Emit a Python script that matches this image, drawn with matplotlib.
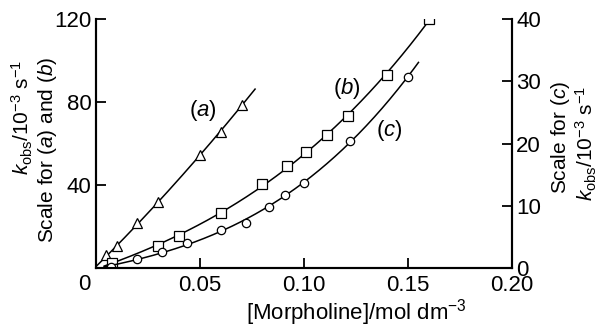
import numpy as np
import matplotlib
matplotlib.use("Agg")
import matplotlib.pyplot as plt

# ---- data ----
# (a) triangles, left scale
xa = [0.005, 0.010, 0.020, 0.030, 0.050, 0.060, 0.070]
ya = [6.3, 10.6, 21.5, 31.6, 54.4, 65.7, 78.5]
# (b) squares, left scale
xb = [0.008, 0.030, 0.040, 0.060, 0.080, 0.092, 0.101, 0.111, 0.121, 0.140, 0.160]
yb = [2.2, 10.8, 15.6, 26.3, 40.3, 49.3, 56.0, 64.0, 73.3, 93.0, 120.0]
# (c) circles, right scale
xc = [0.0075, 0.020, 0.032, 0.044, 0.060, 0.072, 0.083, 0.091, 0.100, 0.122, 0.150]
yc = [0.2, 1.4, 2.5, 4.0, 6.1, 7.3, 9.8, 11.8, 13.7, 20.4, 30.7]

xticks = [0.05, 0.10, 0.15, 0.20]
xticklabels = ["0.05", "0.10", "0.15", "0.20"]
yticks_left = [40, 80, 120]
yticks_right = [0, 10, 20, 30, 40]

plt.rcParams["font.family"] = ["Liberation Sans", "DejaVu Sans"]
plt.rcParams["mathtext.fontset"] = "custom"
plt.rcParams["mathtext.rm"] = "Liberation Sans"
plt.rcParams["mathtext.it"] = "Liberation Sans:italic"
FS = 16
LFS = 15  # axis titles

fig = plt.figure(figsize=(5.99, 3.28), dpi=100)
ax = fig.add_axes([0.160, 0.183, 0.695, 0.759])
ax2 = ax.twinx()

def fit_curve(x, y, deg, x0, x1):
    # smooth line through the points, anchored at the origin like the original
    p = np.polyfit([0.0] + list(x), [0.0] + list(y), deg)
    xs = np.linspace(x0, x1, 200)
    return xs, np.polyval(p, xs)

lw = 1.1
xs, ys = fit_curve(xa, ya, 2, 0.0, 0.0765)
ax.plot(xs, ys, color="black", lw=lw)
ax.plot(xa, ya, ls="none", marker="^", ms=6.5, mfc="white", mec="black", mew=0.9)

xs, ys = fit_curve(xb, yb, 3, 0.004, 0.1605)
ax.plot(xs, ys, color="black", lw=lw)
ax.plot(xb, yb, ls="none", marker="s", ms=6.5, mfc="white", mec="black", mew=0.9)

xs, ys = fit_curve(xc, yc, 3, 0.004, 0.155)
ax2.plot(xs, ys, color="black", lw=lw)
ax2.plot(xc, yc, ls="none", marker="o", ms=6, mfc="white", mec="black", mew=0.9)

ax.set_xlim(0, 0.2)
ax.set_ylim(0, 120)
ax2.set_ylim(0, 40)

ax.set_xticks(xticks)
ax.set_xticklabels(xticklabels, fontsize=FS)
ax.set_yticks(yticks_left)
ax.set_yticklabels([str(v) for v in yticks_left], fontsize=FS)
ax2.set_yticks(yticks_right)
ax2.set_yticklabels([str(v) for v in yticks_right], fontsize=FS)

for a in (ax, ax2):
    a.tick_params(direction="in", length=7, width=1.3, pad=3)
    a.spines["top"].set_visible(False)
    for s in ("left", "bottom", "right"):
        a.spines[s].set_linewidth(1.5)
ax.tick_params(axis="x", pad=5)

# corner zero
ax.annotate("0", xy=(0, 0), xycoords="axes fraction", xytext=(-8, -12),
            textcoords="offset points", ha="center", va="center", fontsize=FS)

ax.text(0.0515, 76, "($a$)", fontsize=FS, ha="center", va="center")
ax.text(0.1205, 86.7, "($b$)", fontsize=FS, ha="center", va="center")
ax.text(0.141, 66.5, "($c$)", fontsize=FS, ha="center", va="center")

ax.set_xlabel("[Morpholine]/mol dm$^{-3}$", fontsize=FS)
ax.xaxis.set_label_coords(0.625, -0.115)

fig.text(22 / 599, 1 - 117 / 328, "$k_{\\rm obs}$/10$^{-3}$ s$^{-1}$", rotation=90,
         ha="center", va="center", fontsize=LFS)
fig.text(48 / 599, 1 - 150 / 328, "Scale for ($a$) and ($b$)", rotation=90,
         ha="center", va="center", fontsize=LFS)
fig.text(561 / 599, 1 - 137 / 328, "Scale for ($c$)", rotation=90,
         ha="center", va="center", fontsize=LFS)
fig.text(586 / 599, 1 - 143 / 328, "$k_{\\rm obs}$/10$^{-3}$ s$^{-1}$", rotation=90,
         ha="center", va="center", fontsize=LFS)

fig.savefig("out.png", dpi=100)
